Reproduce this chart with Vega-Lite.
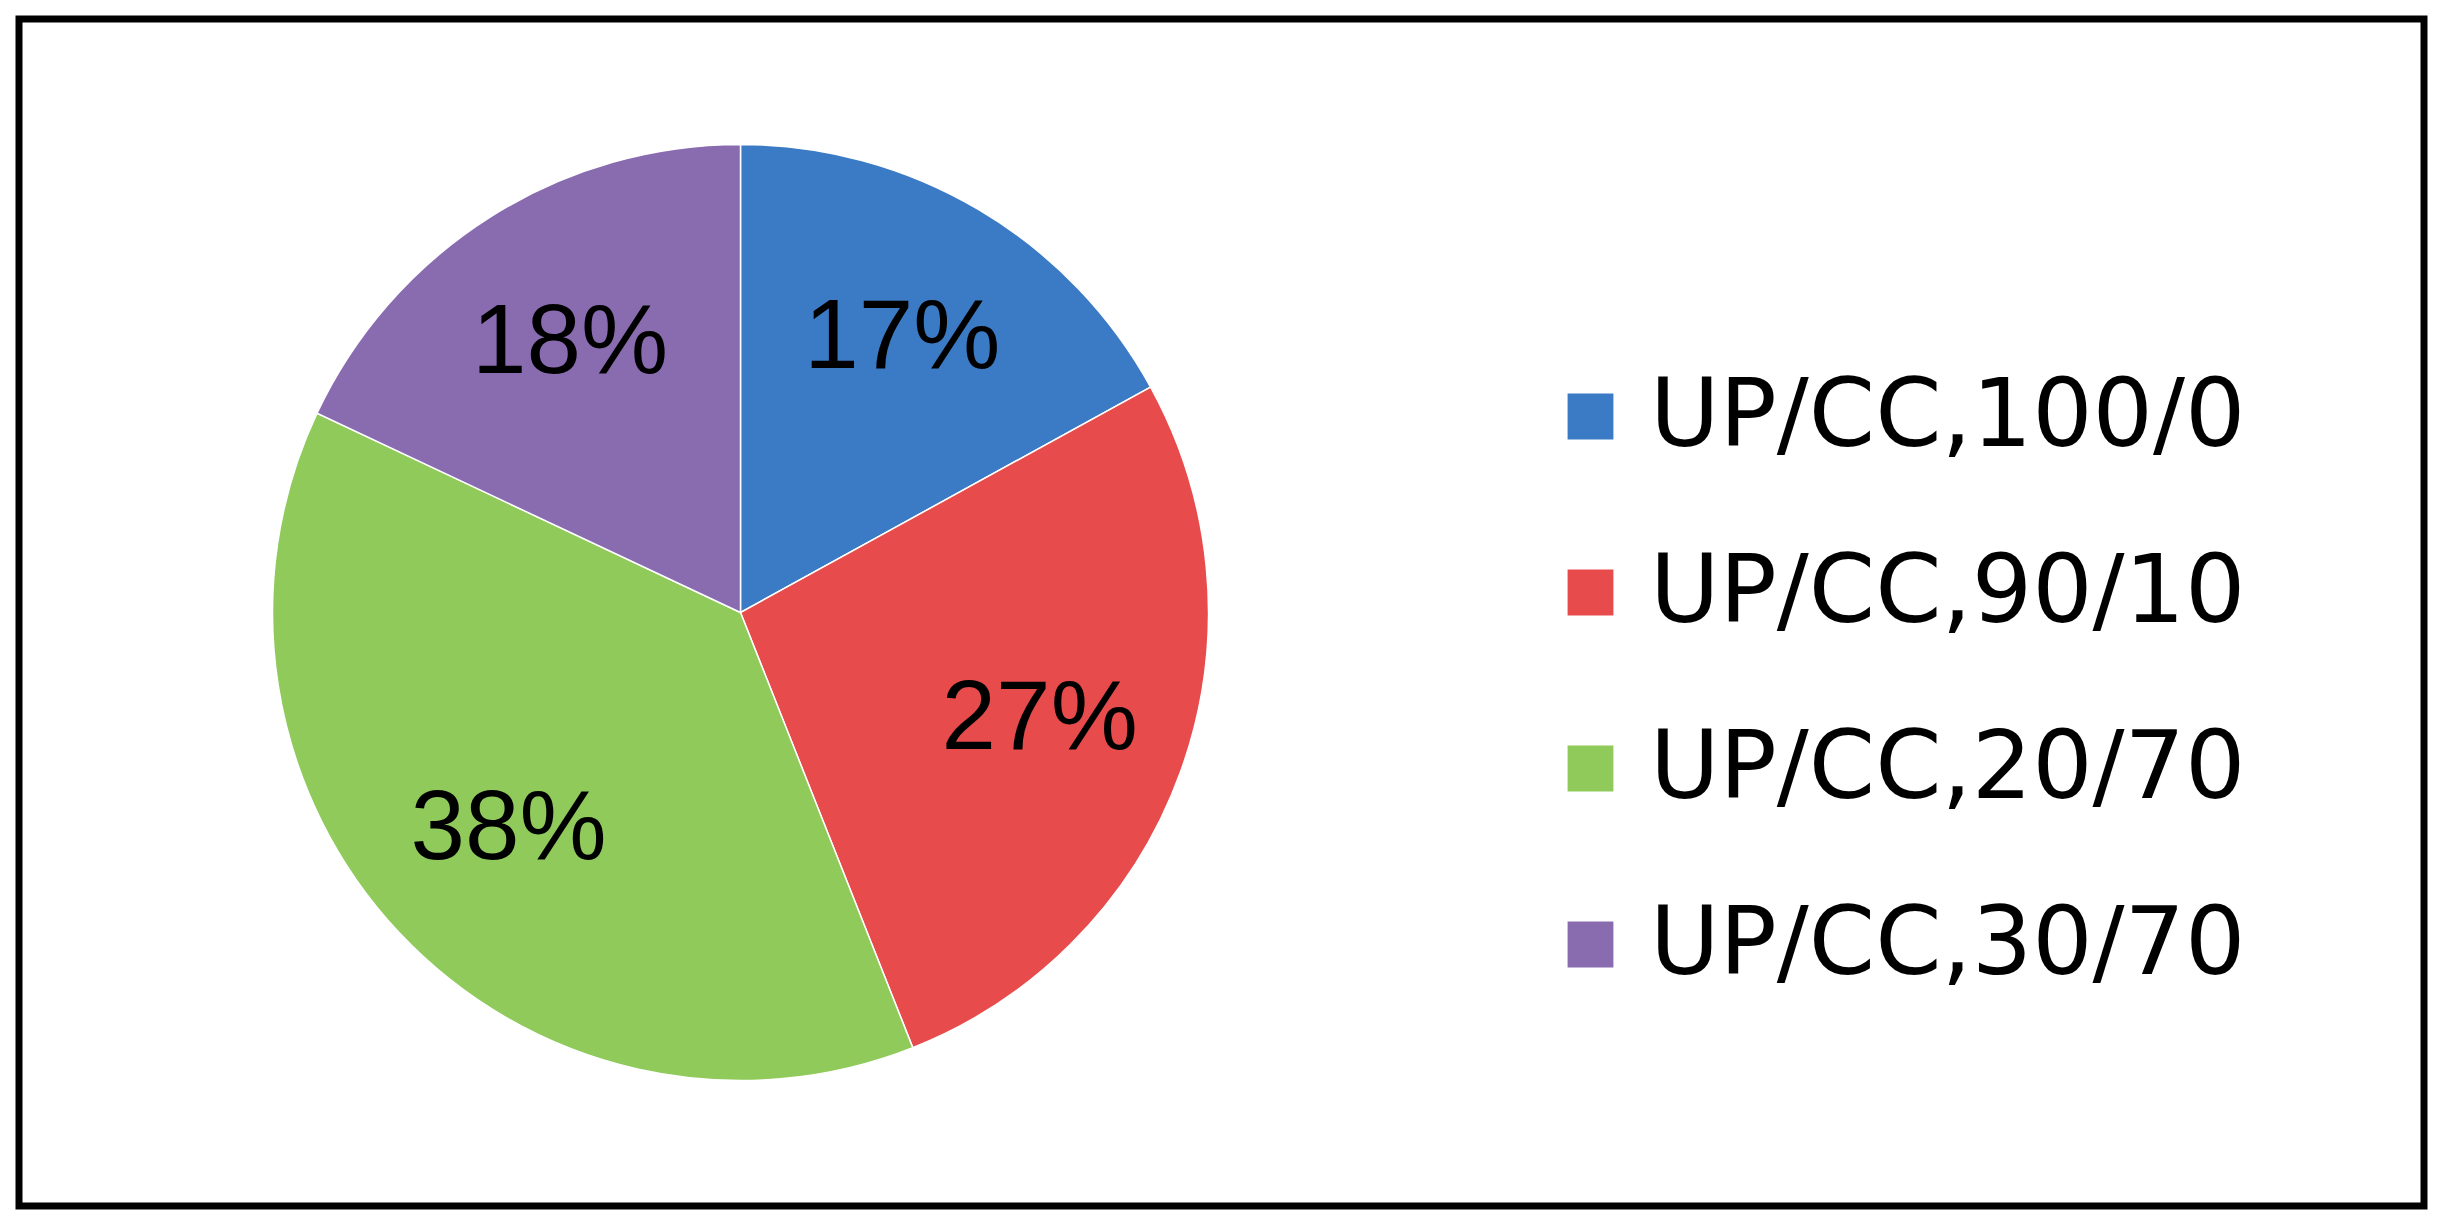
{
  "$schema": "https://vega.github.io/schema/vega-lite/v6.json",
  "width": 2405,
  "height": 1187,
  "autosize": {"type": "none"},
  "padding": {"left": 19, "top": 19, "right": 16, "bottom": 24},
  "background": "white",
  "view": {"stroke": "black", "strokeWidth": 7, "fill": "white"},
  "data": {
    "values": [
      {"series": "UP/CC,100/0", "share": 0.17, "order": 1},
      {"series": "UP/CC,90/10", "share": 0.27, "order": 2},
      {"series": "UP/CC,20/70", "share": 0.38, "order": 3},
      {"series": "UP/CC,30/70", "share": 0.18, "order": 4}
    ]
  },
  "encoding": {
    "theta": {"field": "share", "type": "quantitative", "stack": true},
    "order": {"field": "order", "type": "quantitative"},
    "color": {
      "field": "series",
      "type": "nominal",
      "sort": null,
      "scale": {
        "domain": ["UP/CC,100/0", "UP/CC,90/10", "UP/CC,20/70", "UP/CC,30/70"],
        "range": ["#3B7AC4", "#E84B4B", "#8FCA5B", "#896CB0"]
      },
      "legend": {
        "orient": "none",
        "legendX": 1524,
        "legendY": 350,
        "title": null,
        "symbolType": "square",
        "symbolSize": 2100,
        "symbolStrokeWidth": 0,
        "labelFontSize": 95,
        "labelFont": "DejaVu Sans",
        "labelColor": "black",
        "labelLimit": 0,
        "labelOffset": 12,
        "rowPadding": 80
      }
    }
  },
  "layer": [
    {
      "mark": {"type": "arc", "radius": 468, "x": {"expr": "width * 0.3"}, "stroke": "white", "strokeWidth": 1.5}
    },
    {
      "mark": {"type": "text", "radius": 318, "x": {"expr": "width * 0.3"}, "fontSize": 98, "font": "Liberation Sans", "baseline": "middle", "align": "center"},
      "encoding": {
        "text": {"field": "share", "type": "quantitative", "format": ".0%"},
        "color": {"value": "black"}
      }
    }
  ]
}
